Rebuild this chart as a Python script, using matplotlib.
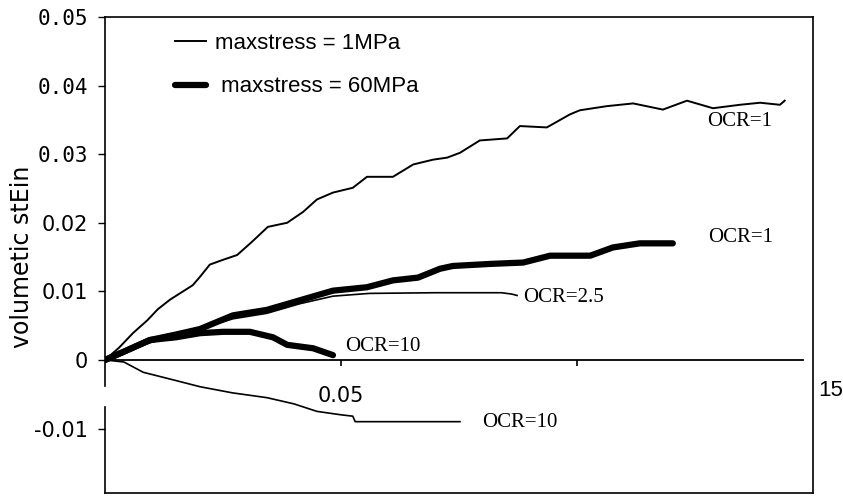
import matplotlib
matplotlib.use("Agg")
import matplotlib.pyplot as plt

# volumetric strain vs strain, two max stresses at several OCRs
thin_ocr1_x = [0, 0.0030, 0.0059, 0.0090, 0.0112, 0.0138, 0.0186, 0.0201, 0.0222, 0.0250,
               0.0280, 0.0311, 0.0345, 0.0386, 0.0420, 0.0449, 0.0483, 0.0525, 0.0555, 0.0610,
               0.0653, 0.0695, 0.0725, 0.0752, 0.0794, 0.0852, 0.0879, 0.0936, 0.0985, 0.1006,
               0.1063, 0.1119, 0.1182, 0.1233, 0.1288, 0.1345, 0.1388, 0.1430, 0.1440]
thin_ocr1_y = [0, 0.0018, 0.0039, 0.0058, 0.0074, 0.0088, 0.0109, 0.0121, 0.0139, 0.0146,
               0.0153, 0.0172, 0.0194, 0.0200, 0.0216, 0.0234, 0.0244, 0.0251, 0.0267, 0.0267,
               0.0285, 0.0292, 0.0295, 0.0302, 0.0320, 0.0323, 0.0341, 0.0339, 0.0358, 0.0364,
               0.0370, 0.0374, 0.0365, 0.0378, 0.0367, 0.0372, 0.0375, 0.0372, 0.0378]

thin_ocr25_x = [0, 0.0095, 0.0201, 0.0271, 0.0343, 0.0413, 0.0483, 0.0560, 0.0700, 0.0840, 0.0862, 0.0873]
thin_ocr25_y = [0, 0.0025, 0.0045, 0.0060, 0.0068, 0.0082, 0.0093, 0.0097, 0.0098, 0.0098, 0.0096, 0.0094]

thin_ocr10_x = [0, 0.0040, 0.0081, 0.0150, 0.0201, 0.0270, 0.0343, 0.0400, 0.0449, 0.0500,
                0.0525, 0.0530, 0.0600, 0.0752]
thin_ocr10_y = [0, -0.0003, -0.0018, -0.0030, -0.0039, -0.0048, -0.0055, -0.0064, -0.0075, -0.0080,
                -0.0082, -0.0090, -0.0090, -0.0090]

thick_ocr1_x = [0, 0.0040, 0.0095, 0.0150, 0.0201, 0.0271, 0.0343, 0.0413, 0.0483, 0.0555,
                0.0610, 0.0663, 0.0710, 0.0737, 0.0816, 0.0886, 0.0943, 0.1028, 0.1076, 0.1133, 0.1203]
thick_ocr1_y = [0, 0.0012, 0.0029, 0.0037, 0.0045, 0.0065, 0.0073, 0.0087, 0.0101, 0.0106,
                0.0116, 0.0120, 0.0133, 0.0137, 0.0140, 0.0142, 0.0152, 0.0152, 0.0164, 0.0170, 0.0170]

thick_ocr10_x = [0, 0.0040, 0.0095, 0.0150, 0.0201, 0.0250, 0.0307, 0.0356, 0.0386, 0.0441, 0.0483]
thick_ocr10_y = [0, 0.0012, 0.0029, 0.0033, 0.0039, 0.0041, 0.0041, 0.0033, 0.0022, 0.0017, 0.0007]

# curve annotations: text, x, y
ocr_labels = ["OCR=1", "OCR=1", "OCR=2.5", "OCR=10", "OCR=10"]
ocr_label_x = [0.1275, 0.1278, 0.0886, 0.0508, 0.0799]
ocr_label_y = [0.0347, 0.0178, 0.0091, 0.0019, -0.0091]

yticks = [-0.01, 0, 0.01, 0.02, 0.03, 0.04, 0.05]
ytick_labels = ["-0.01", "0", "0.01", "0.02", "0.03", "0.04", "0.05"]
xticks = [0.05, 0.10]

fig = plt.figure(figsize=(8.43, 4.97), dpi=100)
ax = fig.add_axes([105 / 843, 4 / 497, 708 / 843, 476 / 497])
ax.set_xlim(0, 0.15)
ax.set_ylim(-0.0194, 0.05)

sans = "Liberation Sans"
serif = "Liberation Serif"
wide = "DejaVu Sans"

ax.plot(thin_ocr1_x, thin_ocr1_y, color="black", lw=1.4, label="maxstress = 1MPa")
ax.plot(thin_ocr25_x, thin_ocr25_y, color="black", lw=1.2)
ax.plot(thin_ocr10_x, thin_ocr10_y, color="black", lw=1.2)
ax.plot(thick_ocr1_x, thick_ocr1_y, color="black", lw=4.5, solid_capstyle="round",
        label=" maxstress = 60MPa")
ax.plot(thick_ocr10_x, thick_ocr10_y, color="black", lw=4.5, solid_capstyle="round")

for txt, tx, ty in zip(ocr_labels, ocr_label_x, ocr_label_y):
    ax.text(tx, ty, txt, family=serif, fontsize=15, va="center", ha="left")

# x axis drawn through zero, with its own ticks
ax.axhline(0, xmin=0, xmax=0.986, color="black", lw=1.3)
ax.vlines(xticks, -0.0009, 0, color="black", lw=1.2)
ax.text(xticks[0], -0.0053, "0.05", family=wide, fontsize=15, ha="center", va="center")
ax.text(0.1537, -0.0045, "15", family=sans, fontsize=16, ha="center", va="center", clip_on=False)
ax.set_xticks([])

# left spine with a break below zero
ax.spines["left"].set_visible(False)
ax.plot([0, 0], [-0.0194, -0.0068], color="black", lw=1.2, clip_on=False)
ax.plot([0, 0], [-0.0038, 0.05], color="black", lw=1.2, clip_on=False)
for s in ["top", "right", "bottom"]:
    ax.spines[s].set_linewidth(1.2)

ax.set_yticks(yticks)
ax.set_yticklabels(ytick_labels)
ax.tick_params(axis="y", direction="out", length=5, width=1, pad=7, labelsize=15)
for lab in ax.get_yticklabels():
    if lab.get_text() in ("0.03", "0.04", "0.05"):
        lab.set_family("DejaVu Sans Mono")
    else:
        lab.set_family(wide)

ax.set_ylabel("volumetic stEin", family=wide, fontsize=17)
ax.yaxis.set_label_coords(-0.100, 0.496)

leg = ax.legend(loc="upper left", bbox_to_anchor=(0.099, 0.967), frameon=False,
                prop={"family": sans, "size": 16}, handlelength=1.4, handletextpad=0.4,
                labelspacing=1.02, borderpad=0, borderaxespad=0)

fig.savefig("out.png", dpi=100)
